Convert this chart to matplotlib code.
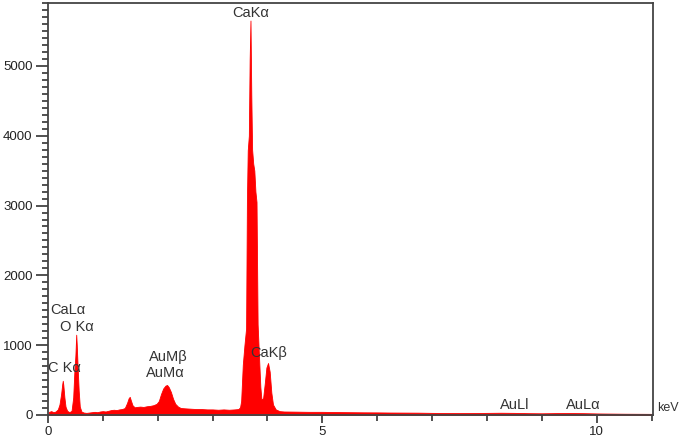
import matplotlib
matplotlib.use("Agg")
import matplotlib.pyplot as plt
from matplotlib.ticker import MultipleLocator

plt.rcParams['font.family'] = ['Liberation Sans', 'DejaVu Sans']

energy_kev = [
    0.00, 0.02, 0.06, 0.10, 0.14, 0.18, 0.21, 0.24, 0.26, 0.27, 0.28, 0.30, 0.32, 0.35,
    0.39, 0.43, 0.46, 0.48, 0.50, 0.515, 0.525, 0.54, 0.56, 0.58, 0.61, 0.65, 0.70, 0.75,
    0.80, 0.85, 0.90, 0.95, 1.00, 1.05, 1.10, 1.15, 1.20, 1.25, 1.30, 1.35, 1.40, 1.44,
    1.47, 1.49, 1.51, 1.54, 1.58, 1.62, 1.68, 1.74, 1.80, 1.86, 1.92, 1.98, 2.02, 2.06,
    2.10, 2.14, 2.17, 2.20, 2.24, 2.28, 2.32, 2.37, 2.42, 2.50, 2.60, 2.70, 2.80, 2.90,
    3.00, 3.10, 3.20, 3.30, 3.40, 3.47, 3.50, 3.52, 3.55, 3.58, 3.61, 3.625, 3.64, 3.66,
    3.675, 3.69, 3.705, 3.72, 3.74, 3.76, 3.78, 3.80, 3.82, 3.85, 3.87, 3.89, 3.92, 3.95,
    3.98, 4.01, 4.04, 4.07, 4.10, 4.15, 4.22, 4.30, 4.50, 4.75, 5.00, 5.25, 5.50, 5.75,
    6.00, 6.25, 6.50, 6.75, 7.00, 7.25, 7.50, 7.75, 8.00, 8.25, 8.50, 8.75, 9.00, 9.25,
    9.50, 9.75, 10.00, 10.25, 10.50, 10.75, 11.00,
]
counts = [
    0, 45, 55, 40, 50, 80, 150, 300, 440, 490, 430, 250, 120, 60,
    40, 60, 250, 600, 850, 1150, 1000, 700, 350, 120, 50, 35, 30, 35,
    40, 45, 40, 50, 55, 50, 60, 70, 75, 70, 80, 85, 100, 170,
    240, 260, 210, 140, 110, 115, 120, 115, 125, 130, 140, 160, 200, 300,
    380, 420, 430, 400, 330, 230, 160, 120, 100, 95, 90, 85, 85, 80,
    80, 75, 80, 75, 80, 85, 110, 200, 720, 1000, 1240, 3070, 3790, 4000,
    5090, 5650, 4570, 3800, 3600, 3500, 3200, 3050, 1300, 750, 400, 220, 240, 450,
    680, 745, 620, 320, 150, 80, 55, 50, 48, 45, 45, 42, 40, 38,
    37, 35, 34, 33, 30, 28, 27, 28, 30, 32, 30, 26, 24, 27,
    28, 26, 22, 20, 18, 17, 16,
]

peak_labels = ["CaKα", "CaLα", "O Kα", "C Kα", "AuMβ", "AuMα", "CaKβ", "AuLl", "AuLα"]
label_x = [3.70, 0.37, 0.53, 0.30, 2.20, 2.13, 4.02, 8.50, 9.75]
label_y = [5765, 1502, 1259, 672, 830, 601, 887, 143, 143]

x_major = [0, 5, 10]
y_major = [0, 1000, 2000, 3000, 4000, 5000]

fig = plt.figure(figsize=(6.85, 4.41), dpi=100)
ax = fig.add_axes([0.070, 0.059, 0.883, 0.934])

ax.fill_between(energy_kev, counts, 0, color='#ff0000', linewidth=0.6, edgecolor='#ff0000')

ax.set_xlim(0, 11.02)
ax.set_ylim(0, 5900)
ax.set_xticks(x_major)
ax.set_yticks(y_major)
ax.xaxis.set_minor_locator(MultipleLocator(1))
ax.yaxis.set_minor_locator(MultipleLocator(100))

ax.tick_params(axis='both', which='major', direction='out', length=9, width=1.2,
               color='#333333', labelsize=9.5, labelcolor='#222222', pad=2)
ax.tick_params(axis='both', which='minor', direction='out', length=4, width=1.2,
               color='#333333')
ax.tick_params(axis='x', which='major', length=6, pad=2)

for side in ['left', 'bottom', 'right', 'top']:
    ax.spines[side].set_color('#444444')
    ax.spines[side].set_linewidth(1.3)

for txt, x, y in zip(peak_labels, label_x, label_y):
    ax.text(x, y, txt, ha='center', va='center', fontsize=10.5, color='#333333')

ax.text(1.007, 100, "keV", transform=ax.get_yaxis_transform(), ha='left', va='center',
        fontsize=9, color='#333333')

fig.savefig("out.png", dpi=100)
